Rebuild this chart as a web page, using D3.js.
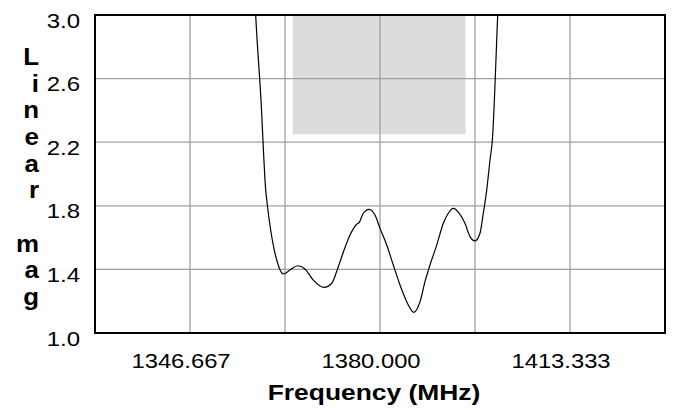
<!DOCTYPE html>
<html>
<head>
<meta charset="utf-8">
<script src="https://cdn.jsdelivr.net/npm/d3@7/dist/d3.min.js"></script>
<style>
body { margin: 0; background: #fff; }
text { font-family: "Liberation Sans", Arial, sans-serif; }
</style>
</head>
<body>
<svg></svg>
<script>
var width = 673; // 全体の幅
var height = 410; // 全体の高さ
var margin = {left: 95, right: 8, top: 15, bottom: 77};

// データ
var freq = [1357.8, 1358.19, 1359.12, 1359.95, 1360.23, 1360.82, 1361.88, 1363.04, 1364.21, 1365.56,
            1366.84, 1368.30, 1370.18, 1371.53, 1372.68, 1373.86, 1374.74, 1375.91, 1376.37, 1377.07,
            1378.07, 1379.12, 1380.00, 1381.18, 1382.33, 1383.51, 1384.68, 1385.96, 1387.02, 1387.89,
            1388.77, 1389.95, 1391.11, 1391.98, 1392.86, 1393.91, 1394.91, 1395.79, 1396.67, 1397.54,
            1398.12, 1398.72, 1399.30, 1399.70, 1400.65, 1401.0];
var mag  = [3.3, 3.0, 2.465, 1.899, 1.805, 1.648, 1.459, 1.371, 1.396, 1.423,
            1.403, 1.333, 1.287, 1.313, 1.417, 1.538, 1.616, 1.684, 1.696, 1.753,
            1.778, 1.742, 1.658, 1.553, 1.428, 1.302, 1.197, 1.130, 1.197, 1.323,
            1.428, 1.553, 1.690, 1.753, 1.784, 1.753, 1.690, 1.606, 1.579, 1.627,
            1.753, 1.899, 2.088, 2.208, 3.0, 3.3];
var xDomain = [1330, 1430];
var yDomain = [1.0, 3.0];
var xGrid = [1346.667, 1363.333, 1380.000, 1396.667, 1413.333];
var xTicks = [1346.667, 1380.000, 1413.333];
var yTicks = [1.0, 1.4, 1.8, 2.2, 2.6, 3.0];
var maskBand = [1364.7, 1395.0];
var maskLevel = [2.25, 3.0];
var xTitle = "Frequency (MHz)";
var yTitle = "Linear mag";

var svg = d3.select("svg").attr("width", width).attr("height", height);
var pw = width - margin.left - margin.right;
var ph = height - margin.top - margin.bottom;

var xScale = d3.scaleLinear().domain(xDomain).range([margin.left, margin.left + pw]);
var yScale = d3.scaleLinear().domain(yDomain).range([margin.top + ph, margin.top]);

svg.append("clipPath").attr("id", "plotclip")
    .append("rect")
    .attr("x", margin.left).attr("y", margin.top)
    .attr("width", pw).attr("height", ph);

// マスク領域
svg.append("rect")
    .attr("x", xScale(maskBand[0]))
    .attr("y", yScale(maskLevel[1]))
    .attr("width", xScale(maskBand[1]) - xScale(maskBand[0]))
    .attr("height", yScale(maskLevel[0]) - yScale(maskLevel[1]))
    .attr("fill", "#dcdcdc");

// グリッド
svg.append("g").selectAll("line")
    .data(xGrid).enter().append("line")
    .attr("x1", function(d) { return xScale(d); })
    .attr("x2", function(d) { return xScale(d); })
    .attr("y1", margin.top).attr("y2", margin.top + ph)
    .attr("stroke", "#a0a0a0").attr("stroke-width", 1.3);

svg.append("g").selectAll("line")
    .data(yTicks.slice(1, -1)).enter().append("line")
    .attr("y1", function(d) { return yScale(d); })
    .attr("y2", function(d) { return yScale(d); })
    .attr("x1", margin.left).attr("x2", margin.left + pw)
    .attr("stroke", "#a0a0a0").attr("stroke-width", 1.3);

// 曲線
var line = d3.line()
    .x(function(d) { return xScale(d[0]); })
    .y(function(d) { return yScale(d[1]); })
    .curve(d3.curveMonotoneX);

svg.append("path")
    .datum(freq.map(function(f, i) { return [f, mag[i]]; }))
    .attr("clip-path", "url(#plotclip)")
    .attr("d", line)
    .attr("fill", "none")
    .attr("stroke", "#000")
    .attr("stroke-width", 1.2);

// 枠
svg.append("rect")
    .attr("x", margin.left).attr("y", margin.top)
    .attr("width", pw).attr("height", ph)
    .attr("fill", "none").attr("stroke", "#000").attr("stroke-width", 2);

// 軸ラベル
svg.append("g").selectAll("text")
    .data(xTicks).enter().append("text")
    .attr("transform", function(d) { return "translate(" + (xScale(d) - 9) + "," + 367.5 + ") scale(1.16,1)"; })
    .attr("text-anchor", "middle")
    .attr("font-size", 20.5)
    .text(function(d) { return d3.format(".3f")(d); });

svg.append("g").selectAll("text")
    .data(yTicks).enter().append("text")
    .attr("transform", function(d) { return "translate(" + 80 + "," + (yScale(d) + 12.5) + ") scale(1.2,1)"; })
    .attr("text-anchor", "end")
    .attr("font-size", 20)
    .text(function(d) { return d3.format(".1f")(d); });

svg.append("text")
    .attr("transform", "translate(" + 374 + "," + 400 + ") scale(1.2,1)")
    .attr("text-anchor", "middle")
    .attr("font-size", 22)
    .attr("font-weight", "bold")
    .text(xTitle);

svg.append("g").selectAll("text")
    .data(yTitle.split("")).enter().append("text")
    .attr("transform", function(d, i) { return "translate(" + 39 + "," + (65 + i * 26.67) + ") scale(1.08,1)"; })
    .attr("text-anchor", "end")
    .attr("font-size", 24)
    .attr("font-weight", "bold")
    .text(function(d) { return d; });
</script>
</body>
</html>
